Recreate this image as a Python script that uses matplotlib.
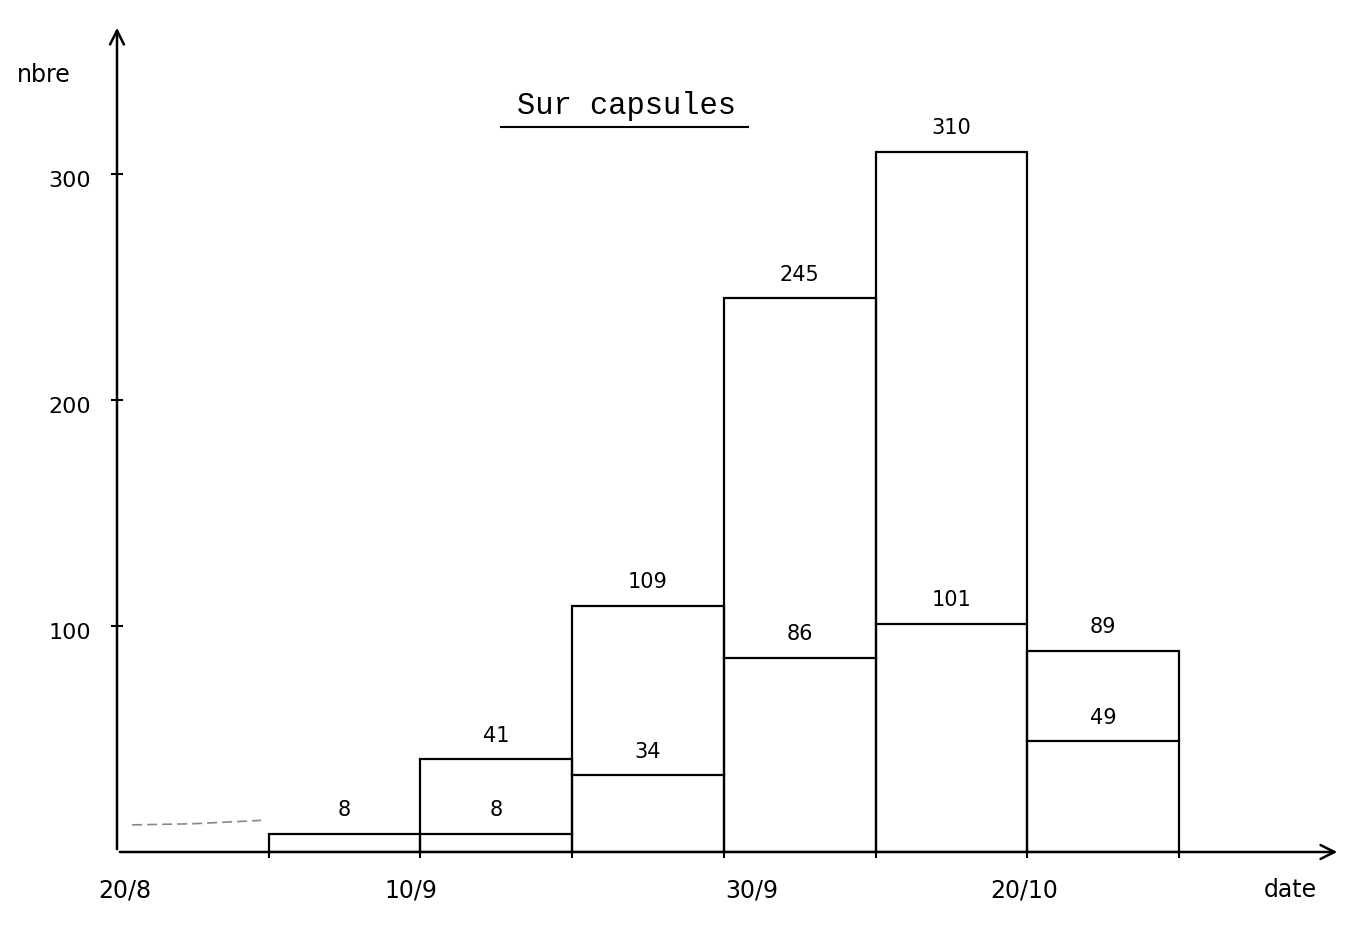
#=========================================================================
# sur-capsules-plot.py
#=========================================================================

import matplotlib.pyplot as plt
import numpy as np

#-------------------------------------------------------------------------
# Configure matplotlib
#-------------------------------------------------------------------------

plt.rcParams['font.family'] = 'DejaVu Sans'
plt.rcParams['font.size']   = 16

#-------------------------------------------------------------------------
# Get data
#-------------------------------------------------------------------------

# Bin edges in days since 20/8 (10-day periods)

bin_left  = [ 10, 20, 30, 40, 50, 60 ]
bin_width = 10

# Counts per period

outer_counts = [ 8, 41, 109, 245, 310, 89 ]
inner_counts = [ None, 8, 34, 86, 101, 49 ]

# Faint dashed trace before the first period

trace_days   = [ 1, 5, 9.5 ]
trace_counts = [ 12, 12.5, 14 ]

# Axis labels

xtick_pos    = [ 0, 20, 40, 60 ]
xtick_labels = [ '20/8', '10/9', '30/9', '20/10' ]
ytick_pos    = [ 100, 200, 300 ]

#-------------------------------------------------------------------------
# Create plot
#-------------------------------------------------------------------------

fig = plt.figure( figsize=(13.51, 9.32), dpi=100 )
ax  = fig.add_axes( [ 117/1351, 80/932, 1223/1351, 827/932 ] )

xmax = 80.6
ymax = 366.0
ax.set_xlim( 0, xmax )
ax.set_ylim( 0, ymax )

for s in ax.spines.values():
  s.set_visible( False )

# Axes with arrows

ax.annotate( '', xy=(xmax, 0), xytext=(0, 0), annotation_clip=False,
             arrowprops=dict( arrowstyle='->', lw=1.8, color='k',
                              mutation_scale=25 ) )
ax.annotate( '', xy=(0, ymax), xytext=(0, 0), annotation_clip=False,
             arrowprops=dict( arrowstyle='->', lw=1.8, color='k',
                              mutation_scale=25 ) )

# Bars (outlines)

for x0, v in zip( bin_left, outer_counts ):
  ax.add_patch( plt.Rectangle( (x0, 0), bin_width, v, fill=False,
                               edgecolor='k', lw=1.6 ) )
  ax.text( x0 + bin_width/2.0, v + 6, str( v ), ha='center',
           va='bottom', fontsize=15 )

for x0, v in zip( bin_left, inner_counts ):
  if v is None:
    continue
  ax.plot( [ x0, x0 + bin_width ], [ v, v ], color='k', lw=1.6 )
  ax.text( x0 + bin_width/2.0, v + 6, str( v ), ha='center',
           va='bottom', fontsize=15 )

ax.plot( trace_days, trace_counts, color='#888888', lw=1.2,
         linestyle=(0, (6, 3)) )

# Ticks

ax.set_xticks( [ 10, 20, 30, 40, 50, 60, 70 ] )
ax.set_xticklabels( [] )
ax.set_yticks( ytick_pos )
ax.set_yticklabels( [] )
ax.tick_params( direction='inout', length=8, width=1.5 )

# hand-placed date labels, nudged like the drawing

nudge = [ 0.5, -0.6, 1.8, -0.2 ]
for x, dx, lab in zip( xtick_pos, nudge, xtick_labels ):
  ax.text( x + dx, -17, lab, ha='center', va='center', fontsize=17 )

for y in ytick_pos:
  ax.text( -1.7, y - 3, str( y ), ha='right', va='center', fontsize=16 )

ax.text( -4.8, 344, 'nbre', ha='center', va='center', fontsize=17 )
ax.text( 77.3, -17, 'date', ha='center', va='center', fontsize=17 )

# Title

ax.text( 33.6, 330, 'Sur capsules', ha='center', va='center',
         fontsize=22, family='Liberation Mono' )
ax.plot( [ 25.3, 41.6 ], [ 321, 321 ], color='k', lw=1.5, clip_on=False )

#-------------------------------------------------------------------------
# Save
#-------------------------------------------------------------------------

plt.savefig( 'out.png', dpi=100 )
